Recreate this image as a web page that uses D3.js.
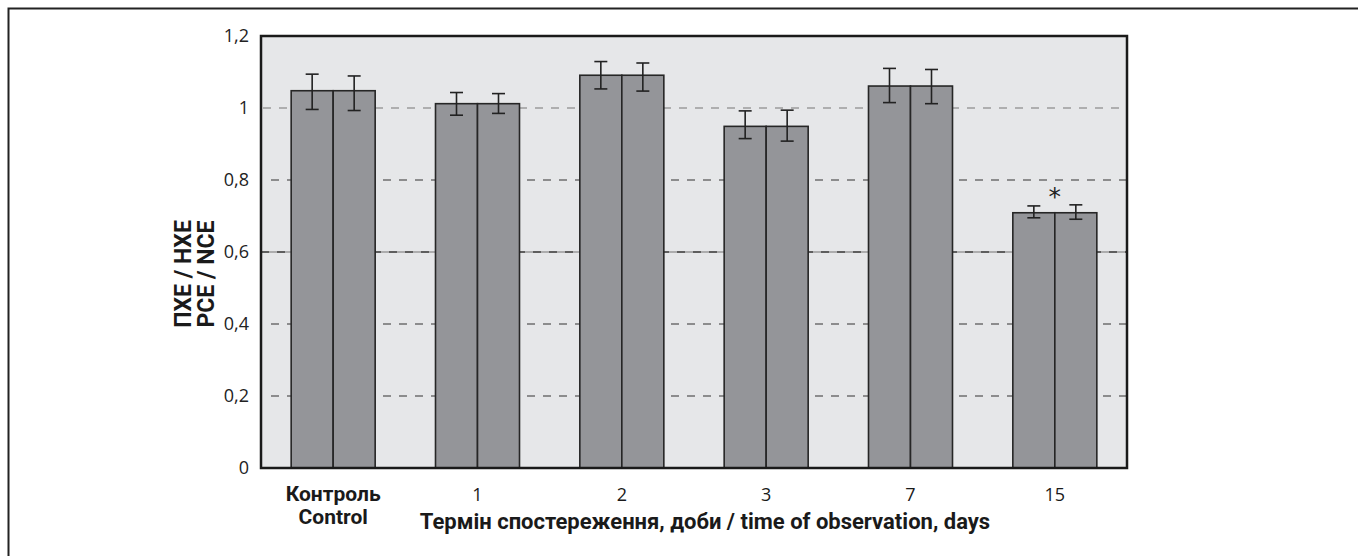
<!DOCTYPE html>
<html>
<head>
<meta charset="utf-8">
<script src="https://cdn.jsdelivr.net/npm/d3@7"></script>
<style>
  body { margin: 0; background: #fff; }
  svg { display: block; }
</style>
</head>
<body>
<div id="wrapper"></div>
<script>
// data
const categories = ['Контроль', '1', '2', '3', '7', '15']
const categories2 = ['Control', '', '', '', '', '']
const seriesA = [1.048, 1.012, 1.091, 0.949, 1.061, 0.709]
const seriesB = [1.048, 1.012, 1.091, 0.949, 1.061, 0.709]
const errHiA = [1.094, 1.043, 1.129, 0.992, 1.110, 0.728]
const errLoA = [0.996, 0.980, 1.053, 0.915, 1.015, 0.695]
const errHiB = [1.089, 1.040, 1.125, 0.994, 1.107, 0.731]
const errLoB = [0.993, 0.985, 1.047, 0.908, 1.012, 0.691]
const yTicks = [0, 0.2, 0.4, 0.6, 0.8, 1, 1.2]
const starred = ['15']

const boldFont = '"Roboto", "Liberation Sans", sans-serif'
const lightFont = '"Open Sans", "Liberation Sans", sans-serif'

const dms = {
    width: 1358,
    height: 556,
    margins: { top: 36, right: 231, bottom: 88, left: 261 }
}
dms.boundedWidth = dms.width - dms.margins.left - dms.margins.right
dms.boundedHeight = dms.height - dms.margins.top - dms.margins.bottom

const wrapper = d3.select('#wrapper')
    .append('svg')
        .attr('width', dms.width)
        .attr('height', dms.height)

// outer frame (only top and left are visible)
wrapper.append('path')
    .attr('d', `M8.5,${dms.height} V8.5 H${dms.width}`)
    .attr('fill', 'none')
    .attr('stroke', '#222')
    .attr('stroke-width', 2)

const bounds = wrapper.append('g')
    .attr('transform', `translate(${dms.margins.left},${dms.margins.top})`)

// scales
const yScale = d3.scaleLinear()
    .domain([0, 1.2])
    .range([dms.boundedHeight, 0])

const xScale = d3.scaleBand()
    .domain(categories)
    .range([0, dms.boundedWidth])
    .padding(0)

const barW = 42
const subScale = d3.scaleBand()
    .domain(['A', 'B'])
    .range([xScale.bandwidth() / 2 - barW, xScale.bandwidth() / 2 + barW])

// plot background
bounds.append('rect')
    .attr('width', dms.boundedWidth)
    .attr('height', dms.boundedHeight)
    .attr('fill', '#e6e7e9')

// grid lines
const gridStyle = {
    0.2: { stroke: '#333', x0: 10 },
    0.4: { stroke: '#333', x0: 10 },
    0.8: { stroke: '#333', x0: 10 },
    1: { stroke: '#777', x0: 2 }
}
yTicks.filter(t => gridStyle[t]).forEach(t => {
    bounds.append('line')
        .attr('x1', gridStyle[t].x0)
        .attr('x2', dms.boundedWidth)
        .attr('y1', yScale(t))
        .attr('y2', yScale(t))
        .attr('stroke', gridStyle[t].stroke)
        .attr('stroke-width', 1.2)
        .attr('stroke-dasharray', '8,8')
})
// the 0.6 line looks solid with darker dashes on it
bounds.append('line')
    .attr('x1', 0).attr('x2', dms.boundedWidth)
    .attr('y1', yScale(0.6)).attr('y2', yScale(0.6))
    .attr('stroke', '#9a9a9a')
    .attr('stroke-width', 1.3)
bounds.append('line')
    .attr('x1', 0).attr('x2', dms.boundedWidth)
    .attr('y1', yScale(0.6)).attr('y2', yScale(0.6))
    .attr('stroke', '#444')
    .attr('stroke-width', 1.3)
    .attr('stroke-dasharray', '8,8')

// bars
const rows = categories.map((c, i) => ([
    { cat: c, key: 'A', v: seriesA[i], hi: errHiA[i], lo: errLoA[i] },
    { cat: c, key: 'B', v: seriesB[i], hi: errHiB[i], lo: errLoB[i] }
])).flat()

bounds.append('g')
    .selectAll('rect')
    .data(rows)
    .join('rect')
        .attr('x', d => xScale(d.cat) + subScale(d.key))
        .attr('y', d => yScale(d.v))
        .attr('width', subScale.bandwidth())
        .attr('height', d => dms.boundedHeight - yScale(d.v))
        .attr('fill', '#949599')
        .attr('stroke', '#262626')
        .attr('stroke-width', 1.6)

// error bars
const capW = 6.5
const errG = bounds.append('g')
    .attr('stroke', '#222')
    .attr('stroke-width', 1.6)
rows.forEach(d => {
    const cx = xScale(d.cat) + subScale(d.key) + subScale.bandwidth() / 2
    errG.append('line')
        .attr('x1', cx).attr('x2', cx)
        .attr('y1', yScale(d.hi)).attr('y2', yScale(d.lo))
    errG.append('line')
        .attr('x1', cx - capW).attr('x2', cx + capW)
        .attr('y1', yScale(d.hi)).attr('y2', yScale(d.hi))
    errG.append('line')
        .attr('x1', cx - capW).attr('x2', cx + capW)
        .attr('y1', yScale(d.lo)).attr('y2', yScale(d.lo))
})

// significance mark
starred.forEach(c => {
    const i = categories.indexOf(c)
    bounds.append('text')
        .attr('x', xScale(c) + xScale.bandwidth() / 2)
        .attr('y', yScale(Math.max(errHiA[i], errHiB[i])))
        .attr('text-anchor', 'middle')
        .style('font-family', '"DejaVu Sans", sans-serif')
        .style('font-size', '25px')
        .attr('fill', '#222')
        .text('*')
})

// plot frame
bounds.append('rect')
    .attr('width', dms.boundedWidth)
    .attr('height', dms.boundedHeight)
    .attr('fill', 'none')
    .attr('stroke', '#1a1a1a')
    .attr('stroke-width', 2.5)

// y axis
const yAxis = bounds.append('g')
    .call(d3.axisLeft(yScale)
        .tickValues(yTicks)
        .tickSize(0)
        .tickPadding(12)
        .tickFormat(d => d3.format('~g')(d).replace('.', ',')))
yAxis.select('.domain').remove()
yAxis.selectAll('text')
    .style('font-family', lightFont)
    .style('font-size', '18px')
    .attr('fill', '#222')

// x axis
const xAxis = bounds.append('g')
    .attr('transform', `translate(0,${dms.boundedHeight})`)
    .call(d3.axisBottom(xScale).tickSize(0).tickPadding(0).tickFormat(''))
xAxis.select('.domain').remove()
xAxis.selectAll('.tick').each(function (d, i) {
    const t = d3.select(this)
    const first = i === 0
    t.append('text')
        .attr('y', 33)
        .attr('text-anchor', 'middle')
        .attr('fill', '#1a1a1a')
        .style('font-family', first ? boldFont : lightFont)
        .style('font-weight', first ? 'bold' : 'normal')
        .style('font-size', first ? '21px' : '18px')
        .text(d)
    if (categories2[i]) {
        t.append('text')
            .attr('y', 56)
            .attr('text-anchor', 'middle')
            .attr('fill', '#1a1a1a')
            .style('font-family', boldFont)
            .style('font-weight', 'bold')
            .style('font-size', '21px')
            .text(categories2[i])
    }
})

// axis titles
bounds.append('text')
    .attr('x', 705 - dms.margins.left)
    .attr('y', dms.boundedHeight + 61)
    .attr('text-anchor', 'middle')
    .attr('fill', '#1a1a1a')
    .style('font-family', boldFont)
    .style('font-weight', 'bold')
    .style('font-size', '22px')
    .text('Термін спостереження, доби / time of observation, days')

const yTitle = wrapper.append('g')
    .attr('transform', 'translate(0,274) rotate(-90)')
yTitle.append('text')
    .attr('x', 0).attr('y', 191)
    .attr('text-anchor', 'middle')
    .attr('fill', '#1a1a1a')
    .style('font-family', boldFont)
    .style('font-weight', 'bold')
    .style('font-size', '23px')
    .text('ПХЕ / НХЕ')
yTitle.append('text')
    .attr('x', 0).attr('y', 214)
    .attr('text-anchor', 'middle')
    .attr('fill', '#1a1a1a')
    .style('font-family', boldFont)
    .style('font-weight', 'bold')
    .style('font-size', '23px')
    .text('PCE / NCE')
</script>
</body>
</html>
